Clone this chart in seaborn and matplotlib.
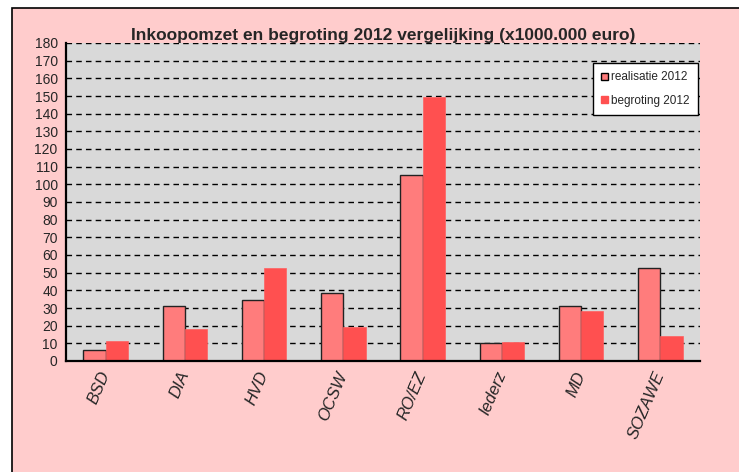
import matplotlib
matplotlib.use("Agg")
import matplotlib.pyplot as plt
import matplotlib.patches as mpatches
import seaborn as sns
import pandas as pd
import numpy as np

categories = ["BSD", "DIA", "HVD", "OCSW", "RO/EZ", "Iederz", "MD", "SOZAWE"]
realisatie_2012 = [6.2, 31.0, 34.5, 38.3, 105.0, 10.3, 31.0, 52.8]
begroting_2012 = [11.5, 17.9, 52.5, 19.4, 149.2, 10.9, 28.3, 14.0]
series_names = ["realisatie 2012", "begroting 2012"]
y_ticks = list(range(0, 181, 10))
title = "Inkoopomzet en begroting 2012 vergelijking (x1000.000 euro)"

df = pd.DataFrame({
    "cat": categories * 2,
    "value": realisatie_2012 + begroting_2012,
    "serie": [series_names[0]] * len(categories) + [series_names[1]] * len(categories),
})

sns.set_theme(style="white")
plt.rcParams["font.family"] = ["Liberation Sans", "DejaVu Sans"]

fig = plt.figure(figsize=(7.39, 4.72), dpi=100)
fig.patch.set_facecolor("white")
# pink chart area with black frame (top & left visible)
frame = mpatches.Rectangle((12 / 739, -0.1), 1.2, 1 - 8 / 472 + 0.1,
                           transform=fig.transFigure, facecolor="#FFCCCC",
                           edgecolor="black", linewidth=1.2, zorder=-10)
fig.add_artist(frame)

ax = fig.add_axes([66 / 739, 1 - 361 / 472, (700 - 66) / 739, (361 - 43) / 472])
ax.set_zorder(5)
ax.set_facecolor("#D9D9D9")

colors = {"realisatie 2012": "#FF7C7C", "begroting 2012": "#FF5050"}
sns.barplot(data=df, x="cat", y="value", hue="serie", palette=colors, width=0.56,
            ax=ax, saturation=1, legend=True)

for i, cont in enumerate(ax.containers):
    for bar in cont:
        if i == 0:
            bar.set_edgecolor("#222222")
            bar.set_linewidth(1.0)
        else:
            bar.set_edgecolor("#FF6060")
            bar.set_linewidth(0.5)

ax.set_ylim(0, 180)
ax.set_xlim(-0.5, len(categories) - 0.5)
ax.set_yticks(y_ticks)
ax.set_yticklabels([str(t) for t in y_ticks], fontsize=10)
ax.yaxis.grid(True, linestyle=(0, (4, 3)), color="black", linewidth=1.0)
ax.set_axisbelow(True)

ax.set_xticks(np.arange(-0.5, len(categories), 1.0))
ax.set_xticklabels([""] * (len(categories) + 1))
ax.set_xticks(np.arange(len(categories)), minor=True)
ax.set_xticklabels(categories, minor=True, rotation=67, fontstyle="italic", fontsize=12,
                   ha="right", va="center", rotation_mode="anchor")
ax.tick_params(axis="x", which="minor", length=0, pad=8)
ax.tick_params(axis="x", which="major", length=5, width=1.2, color="#444444", direction="out")
ax.tick_params(axis="y", length=4, width=1.2, color="black", direction="out", pad=2)
ax.set_xlabel("")
ax.set_ylabel("")

for s in ["top", "right"]:
    ax.spines[s].set_visible(False)
for s in ["left", "bottom"]:
    ax.spines[s].set_color("black")
    ax.spines[s].set_linewidth(1.6)

ax.set_title(title, fontsize=12.5, fontweight="bold", pad=2)

handles, labels = ax.get_legend_handles_labels()
leg = ax.legend(handles, labels, loc="upper right", bbox_to_anchor=(0.997, 0.937),
                borderaxespad=0, frameon=True, fancybox=False, edgecolor="black",
                facecolor="white", fontsize=8.5, handlelength=0.55, handleheight=0.55,
                handletextpad=0.3, borderpad=0.7, labelspacing=1.0, framealpha=1)
leg.get_frame().set_linewidth(1.0)
lh = leg.legend_handles
lh[0].set_edgecolor("black")
lh[0].set_linewidth(1.0)
lh[1].set_edgecolor("#FF5050")

fig.savefig("out.png", dpi=100, facecolor=fig.get_facecolor())
